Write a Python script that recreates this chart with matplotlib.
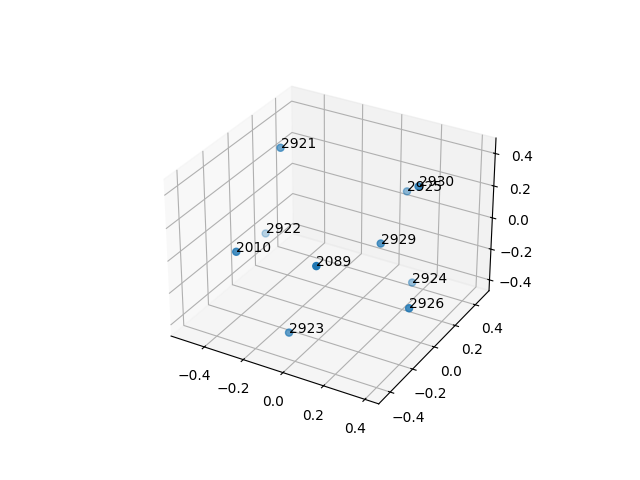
import matplotlib
matplotlib.use("Agg")
import matplotlib.pyplot as plt

# point ids and positions
labels = ['2089', '2010', '2923', '2926', '2924', '2929', '2930', '2925', '2921', '2922']
xs = [0.036, -0.339, -0.097, 0.375, 0.237, 0.168, 0.279, 0.132, -0.347, -0.435]
ys = [-0.277, -0.319, -0.288, -0.070, 0.220, 0.049, 0.178, 0.353, 0.069, 0.073]
zs = [0.054, 0.031, -0.405, -0.214, -0.295, 0.035, 0.345, 0.163, 0.436, -0.132]


def main():
    fig = plt.figure()
    ax = fig.add_subplot(projection='3d')
    ax.scatter(xs, ys, zs, s=26)

    for label, x, y, z in zip(labels, xs, ys, zs):
        ax.text(x, y, z, label)

    ax.set_xlim(-0.574, 0.466)
    ax.set_ylim(-0.50, 0.54)
    ax.set_zlim(-0.471, 0.494)

    fig.savefig("out.png", dpi=100)


if __name__ == "__main__":
    main()
